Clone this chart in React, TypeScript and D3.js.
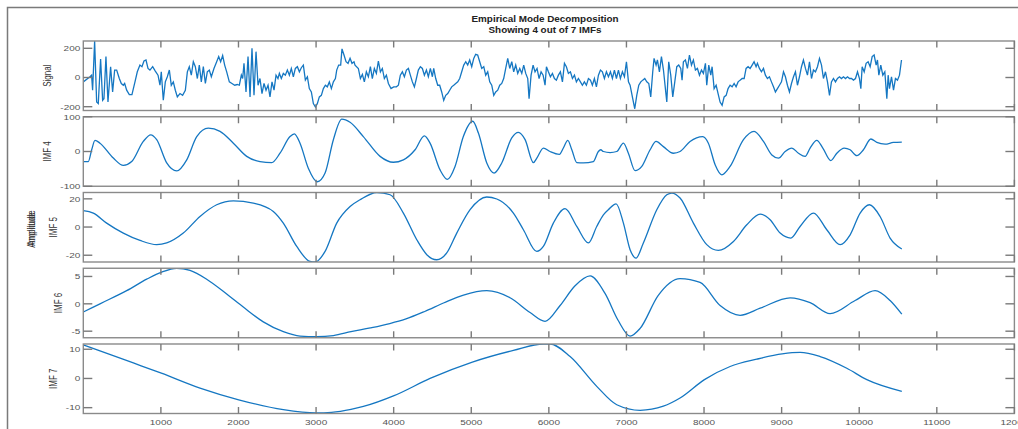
import React from "react";
import * as d3 from "d3";

// values: [sample, amplitude]
const signalPts: [number, number][] = [
  [0, -30], [86, 5], [107, 16], [120, -87], [146, 250], [172, -168], [193, -179], [223, 126], [249, -156], [266, -145],
  [292, 143], [318, -168], [352, 74], [378, -99], [404, 51], [430, 51], [464, -7], [490, -41], [516, -53], [533, -41],
  [559, -87], [593, -117], [627, -117], [666, -30], [696, 39], [730, 85], [756, 74], [782, 113], [808, 120], [834, 62],
  [859, 51], [894, 74], [928, 44], [963, 16], [988, -53], [1005, 39], [1031, -156], [1057, -30], [1083, 5], [1109, 51],
  [1134, -53], [1160, -30], [1186, -87], [1212, -133], [1246, -110], [1280, -122], [1315, -87], [1341, 39], [1366, 74], [1392, 16],
  [1418, 108], [1444, 74], [1470, -7], [1495, 85], [1521, -30], [1547, 74], [1573, -41], [1598, 39], [1624, 51], [1650, 5],
  [1684, 62], [1719, 108], [1745, 143], [1770, 108], [1796, 150], [1822, 85], [1848, 39], [1882, -30], [1916, -41], [1951, -53],
  [1985, -48], [2011, -53], [2037, 16], [2054, -7], [2071, 97], [2097, -99], [2123, 143], [2149, -133], [2174, 200], [2200, -122],
  [2226, 177], [2252, -53], [2277, -7], [2303, -110], [2329, -41], [2355, -87], [2381, -53], [2406, -133], [2432, -30], [2458, -87],
  [2484, 16], [2509, -7], [2527, 28], [2552, -7], [2578, 28], [2604, 16], [2630, 51], [2656, 16], [2681, 62], [2707, 5],
  [2733, 62], [2759, 74], [2785, 39], [2810, 67], [2836, 85], [2862, -18], [2888, 5], [2913, -76], [2939, -99], [2965, -179],
  [2991, -202], [3016, -179], [3042, -133], [3068, -122], [3094, -76], [3120, -53], [3145, -64], [3171, -30], [3197, -76], [3223, -30],
  [3249, -7], [3266, 51], [3291, 85], [3317, 85], [3334, 196], [3360, 154], [3386, 108], [3412, 97], [3438, 131], [3463, 97],
  [3489, 108], [3502, 85], [3545, 62], [3571, -7], [3597, 21], [3622, -30], [3648, 39], [3674, 5], [3700, 74], [3725, -7],
  [3751, 62], [3777, 28], [3803, 113], [3829, 39], [3854, 62], [3880, -7], [3906, 16], [3932, -41], [3966, -76], [4000, -64],
  [4035, -64], [4061, -53], [4086, 16], [4112, 39], [4138, 5], [4164, 51], [4190, 62], [4215, 16], [4241, -30], [4267, -64],
  [4293, -7], [4318, 51], [4344, 74], [4370, 62], [4396, 16], [4422, 51], [4447, 5], [4473, 62], [4499, 5], [4516, 62],
  [4542, -7], [4568, -53], [4593, -53], [4619, -99], [4645, -156], [4671, -122], [4697, -110], [4722, -87], [4748, -64], [4774, -53],
  [4800, -41], [4826, -30], [4851, -7], [4877, 39], [4903, 85], [4929, 108], [4954, 85], [4980, 120], [5006, 74], [5032, 131],
  [5057, 159], [5083, 154], [5109, 108], [5135, 62], [5161, 74], [5186, 16], [5212, 39], [5238, -30], [5264, -53], [5290, -122],
  [5315, -99], [5341, -87], [5367, -53], [5393, -41], [5418, -7], [5444, 62], [5470, 131], [5496, 62], [5522, 108], [5547, 39],
  [5573, 85], [5599, 28], [5625, 62], [5651, 28], [5676, 85], [5702, 28], [5728, -7], [5745, -145], [5771, 16], [5797, 85],
  [5822, 39], [5848, 62], [5874, -7], [5900, 39], [5926, 16], [5951, -53], [5969, 74], [5994, 39], [6020, 5], [6046, 28],
  [6072, -7], [6097, -18], [6123, 16], [6149, 39], [6175, -30], [6201, 97], [6226, 74], [6252, 28], [6278, 39], [6304, -7],
  [6330, 16], [6355, -30], [6381, -7], [6407, -30], [6432, -53], [6458, -30], [6484, -53], [6510, -7], [6536, -18], [6561, -53],
  [6587, -7], [6613, -64], [6639, 16], [6665, 51], [6690, 39], [6716, -7], [6742, 39], [6768, 5], [6794, 39], [6819, -7],
  [6845, 51], [6871, -7], [6897, 51], [6922, -7], [6948, 39], [6974, 5], [7000, 108], [7026, -30], [7047, -53], [7081, -145],
  [7107, -214], [7133, -122], [7159, -53], [7185, -30], [7210, -18], [7236, -7], [7262, -30], [7288, -41], [7313, -133], [7339, 39],
  [7356, 131], [7382, 85], [7399, 120], [7425, 39], [7451, 143], [7477, 51], [7502, -76], [7520, -168], [7545, 108], [7571, 16],
  [7597, -133], [7623, -30], [7649, 74], [7674, 85], [7700, 62], [7717, -18], [7734, 108], [7760, 120], [7786, 62], [7812, 154],
  [7838, 85], [7863, 120], [7889, 51], [7915, 62], [7941, 16], [7967, 51], [7992, 28], [8018, 97], [8035, -53], [8061, 85],
  [8087, 16], [8104, 74], [8130, -76], [8156, -53], [8181, -110], [8207, -168], [8233, -191], [8259, -133], [8285, -122], [8310, -76],
  [8336, -53], [8362, -64], [8388, -41], [8413, -64], [8439, -30], [8465, -18], [8491, -7], [8517, -7], [8542, 62], [8568, 74],
  [8594, 62], [8620, 85], [8645, 108], [8671, 74], [8688, 97], [8714, 62], [8740, 39], [8766, 62], [8791, 16], [8817, -7],
  [8843, 5], [8869, -30], [8895, -64], [8920, -99], [8946, -76], [8972, -53], [8998, -30], [9024, 39], [9049, 5], [9075, -53],
  [9101, -99], [9127, -41], [9153, 5], [9178, 39], [9204, -53], [9230, 5], [9256, 74], [9281, 120], [9307, 62], [9333, 16],
  [9359, 108], [9385, -7], [9410, 51], [9436, 39], [9462, 74], [9488, 131], [9514, 85], [9539, -7], [9565, 39], [9591, -30],
  [9617, -122], [9642, -30], [9668, -7], [9694, -30], [9720, -7], [9746, 5], [9771, -7], [9797, 5], [9823, -7], [9849, 5],
  [9875, -7], [9900, -7], [9926, -18], [9952, -7], [9978, 39], [10003, -7], [10021, -76], [10038, 74], [10064, 39], [10089, 97],
  [10115, 108], [10141, 74], [10167, 143], [10192, 154], [10218, 85], [10235, 120], [10253, 16], [10278, 85], [10304, 16], [10330, 39],
  [10356, -145], [10373, 16], [10390, -76], [10416, 5], [10442, -87], [10467, -7], [10493, -18], [10519, 16], [10545, 120],
];

const imf4Pts: [number, number][] = [
  [0, -29], [64, -29], [108, 5], [151, 32], [215, 24], [387, -19], [516, -40], [624, -29], [773, 29], [869, 48],
  [946, 34], [1075, -33], [1204, -56], [1333, -24], [1462, 43], [1611, 67], [1762, 58], [1934, 24], [2106, -14], [2278, -29],
  [2429, -32], [2535, -5], [2664, 43], [2720, 51], [2793, 24], [2900, -48], [3016, -87], [3116, -62], [3223, 34], [3331, 93],
  [3438, 84], [3609, 43], [3825, -14], [3996, -31], [4125, -24], [4276, 5], [4396, 45], [4469, 24], [4598, -53], [4692, -80],
  [4791, -43], [4898, 43], [5019, 87], [5092, 53], [5200, -33], [5294, -62], [5393, -33], [5522, 39], [5607, 55], [5694, 34],
  [5801, -32], [5845, -19], [5930, 10], [6016, 0], [6136, -8], [6187, 10], [6244, 32], [6296, 5], [6360, -32], [6445, -33],
  [6574, -29], [6638, 0], [6669, 5], [6703, 0], [6789, -3], [6875, 0], [6961, 24], [7025, -5], [7111, -55], [7198, -43],
  [7305, 5], [7382, 29], [7476, 14], [7605, -5], [7691, 0], [7820, 29], [7984, 43], [8056, 24], [8143, -38], [8229, -67],
  [8336, -43], [8508, 34], [8645, 58], [8766, 29], [8874, -10], [8959, -19], [9045, 0], [9131, 10], [9217, -5], [9303, -14],
  [9367, 10], [9453, 32], [9531, 10], [9634, -26], [9711, -5], [9806, 10], [9883, 5], [9969, -12], [10054, 5], [10150, 36],
  [10227, 26], [10334, 21], [10441, 26], [10549, 27],
];

const imf5Pts: [number, number][] = [
  [0, 11.6], [129, 9.9], [301, 2.8], [516, -4.3], [731, -9.5], [946, -12.5], [1075, -11.3], [1289, -4.3], [1504, 7.5], [1719, 15.8],
  [1934, 18.6], [2191, 17.0], [2449, 11.1], [2578, 2.8], [2751, -13.8], [2922, -24.4], [2987, -24.8], [3116, -17.3], [3266, 2.8], [3438, 14.6],
  [3567, 19.4], [3782, 24.5], [3954, 22.9], [4125, 9.9], [4298, -9.0], [4427, -19.6], [4555, -23.2], [4684, -18.4], [4813, -4.3], [4985, 12.3],
  [5200, 21.3], [5329, 19.9], [5543, 9.9], [5672, -1.9], [5844, -17.3], [5929, -13.8], [6058, 2.8], [6209, 13.0], [6360, 0.4], [6510, -11.3],
  [6617, 0.4], [6703, 8.7], [6767, 12.3], [6867, 16.5], [6961, 2.8], [7047, -16.1], [7124, -22.0], [7218, -11.3], [7391, 12.3], [7520, 22.9],
  [7585, 24.1], [7691, 20.6], [7863, 2.8], [8035, -12.5], [8185, -16.6], [8379, -10.2], [8551, 1.6], [8723, 9.2], [8852, 5.2], [8981, -4.3],
  [9118, -7.8], [9238, 0.4], [9410, 9.9], [9582, -1.9], [9754, -12.5], [9883, -5.5], [10012, 9.9], [10132, 15.8], [10269, 7.5], [10398, -7.8],
  [10549, -15.6],
];

const imf6Pts: [number, number][] = [
  [0, -1.5], [215, 0], [559, 2.4], [817, 4.5], [1010, 5.8], [1204, 6.5], [1375, 6.1], [1590, 4.5], [1848, 1.8], [2062, -0.6],
  [2320, -3.3], [2578, -5.1], [2793, -5.9], [3008, -6.0], [3223, -5.8], [3450, -5.1], [3700, -4.4], [3950, -3.6], [4150, -2.8], [4400, -1.4],
  [4650, 0.2], [4900, 1.6], [5200, 2.4], [5500, 1.1], [5758, -1.6], [5951, -3.2], [6145, -0.3], [6338, 3.3], [6531, 5.1], [6724, 1.9],
  [6892, -3.0], [7047, -5.9], [7176, -4.5], [7408, 1.5], [7691, 4.6], [7949, 3.9], [8207, -0.3], [8465, -2.1], [8723, -0.8], [9110, 1.1],
  [9367, 0.2], [9625, -1.8], [9947, 0.6], [10205, 2.4], [10398, 0.6], [10549, -1.9],
];

const imf7Pts: [number, number][] = [
  [0, 11.5], [645, 5.3], [1006, 1.8], [1504, -3.3], [2003, -7.3], [2578, -10.7], [3000, -11.8], [3200, -11.6], [3450, -10.6], [3610, -9.6],
  [4005, -5.9], [4469, 0.0], [5014, 5.6], [5543, 9.6], [5930, 11.8], [6016, 11.8], [6274, 7.5], [6617, -2.7], [6875, -9.0], [7176, -10.9],
  [7476, -9.5], [7691, -6.7], [8005, -0.4], [8336, 4.1], [8680, 6.6], [9007, 8.4], [9238, 8.9], [9496, 7.5], [9840, 3.5], [10098, -0.4],
  [10549, -4.4],
];

const panelLabels = ["Signal", "IMF 4", "IMF 5", "IMF 6", "IMF 7"];
const panelDomains: [number, number][] = [[-226, 250], [-100, 100], [-24.8, 24.5], [-6.2, 6.5], [-12, 11.8]];
const panelTicks = [[-200, 0, 200], [-100, 0, 100], [-20, 0, 20], [-5, 0, 5], [-10, 0, 10]];
const xTicks = [1000, 2000, 3000, 4000, 5000, 6000, 7000, 8000, 9000, 10000, 11000, 12000];
const titleLines = ["Empirical Mode Decomposition", "Showing 4 out of 7 IMFs"];

const W = 1018;
const H = 429;
const FONT = "'Liberation Sans', Arial, sans-serif";
const K = 1.25; // horizontal stretch of the text
const FS = 8;
const LINE = "#1577c2";
const FRAME = "#8a8a8a";

// rough width of a label in px, for placing the y labels
const textW = (s: string) =>
  s.split("").reduce((a, c) => a + (c === "-" ? 0.333 : 0.556), 0) * FS * K;

export default function App() {
  const series = [signalPts, imf4Pts, imf5Pts, imf6Pts, imf7Pts];
  const left = 83.3;
  const right = 1014.4;
  const x = d3.scaleLinear().domain([0, 12000]).range([left, right]);
  const top0 = 41;
  const step = 75.75;
  const ph = 69.5;

  return (
    <svg width={W} height={H} style={{ position: "absolute", left: 0, top: 0, background: "#fff" }}
      fontFamily={FONT}>
      <defs>
        {series.map((_, i) => (
          <clipPath id={`clip${i}`} key={i}>
            <rect x={left} y={top0 + i * step} width={right - left} height={ph} />
          </clipPath>
        ))}
      </defs>
      {/* figure border */}
      <path d={`M7.5,${H}V7.5H${W}`} fill="none" stroke="#7a7a7a" strokeWidth={1.5} />

      {titleLines.map((t, i) => (
        <text key={t} transform={`translate(545,${22 + i * 10.5}) scale(${K * 0.92},1)`} textAnchor="middle"
          fontSize={8.6} fontWeight="bold" fill="#222">{t}</text>
      ))}

      {series.map((pts, i) => {
        const top = top0 + i * step;
        const bot = top + ph;
        const y = d3.scaleLinear().domain(panelDomains[i]).range([bot, top]);
        const line = d3.line<[number, number]>()
          .x((d) => x(d[0]))
          .y((d) => y(d[1]))
          .curve(i === 0 ? d3.curveLinear : d3.curveMonotoneX);
        const maxW = d3.max(panelTicks[i], (t) => textW(String(t))) || 0;
        const labX = left - 3 - maxW - 9;
        return (
          <g key={i}>
            <path d={line(pts) || ""} fill="none" stroke={LINE} strokeWidth={1.3} clipPath={`url(#clip${i})`} />
            <rect x={left} y={top} width={right - left} height={ph} fill="none" stroke={FRAME} strokeWidth={1.4} />
            {xTicks.map((t) => (
              <g key={t} stroke="#7a7a7a" strokeWidth={1.4}>
                <line x1={x(t)} x2={x(t)} y1={top} y2={top + 6.5} />
                <line x1={x(t)} x2={x(t)} y1={bot} y2={bot - 6.5} />
              </g>
            ))}
            {panelTicks[i].map((t) => (
              <g key={t}>
                <line x1={left} x2={left + 9} y1={y(t)} y2={y(t)} stroke="#7a7a7a" strokeWidth={1.4} />
                <line x1={right} x2={right - 9} y1={y(t)} y2={y(t)} stroke="#7a7a7a" strokeWidth={1.4} />
                <text transform={`translate(${left - 3},${y(t)}) scale(${K},1)`} textAnchor="end" dy="0.35em"
                  fontSize={FS} fill="#555">{t}</text>
              </g>
            ))}
            <text transform={`translate(${labX},${(top + bot) / 2}) scale(${K},1) rotate(-90)`} textAnchor="middle"
              fontSize={FS} fill="#333">{panelLabels[i]}</text>
            {i === series.length - 1 &&
              xTicks.map((t) => (
                <text key={t} transform={`translate(${x(t)},${bot + 11}) scale(${K},1)`} textAnchor="middle"
                  fontSize={FS} fill="#555">{t}</text>
              ))}
          </g>
        );
      })}

      {[0, 2].map((o) => (
        <text key={o} transform={`translate(35,${228 + o}) scale(${K},1) rotate(-90)`} textAnchor="middle"
          fontSize={FS} fill="#333">Amplitude</text>
      ))}
    </svg>
  );
}
